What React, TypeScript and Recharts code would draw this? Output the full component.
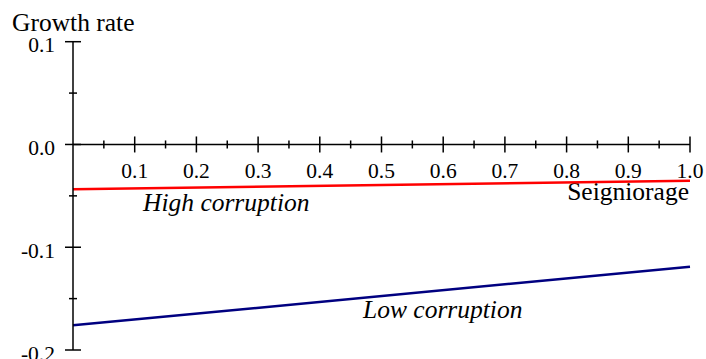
import React from 'react';
import { LineChart, Line, XAxis, YAxis, ReferenceLine, ReferenceDot, Customized } from 'recharts';

// Seigniorage share (x) and growth rate for each corruption regime
const seigniorage = [0, 1];
const highCorruption = [-0.0435, -0.0354];
const lowCorruption = [-0.176, -0.119];

// Axis ticks: majors carry a label, minors are blank
const xTicks = [0.05, 0.1, 0.15, 0.2, 0.25, 0.3, 0.35, 0.4, 0.45, 0.5, 0.55, 0.6, 0.65, 0.7, 0.75, 0.8, 0.85, 0.9, 0.95, 1.0];
const xTickLabels = ['', '0.1', '', '0.2', '', '0.3', '', '0.4', '', '0.5', '', '0.6', '', '0.7', '', '0.8', '', '0.9', '', '1.0'];
const yTicks = [-0.2, -0.15, -0.1, -0.05, 0, 0.05, 0.1];
const yTickLabels = ['-0.2', '', '-0.1', '', '0.0', '', '0.1'];

const data = seigniorage.map((s, i) => ({ s, high: highCorruption[i], low: lowCorruption[i] }));

const FONT = '"Liberation Serif", "Times New Roman", Times, serif';
const TICK_SIZE = 21.5;
const LABEL_SIZE = 25.5;
const INK = '#000';

const YTick = (props: any) => {
  const { x, y, payload } = props;
  const idx = yTicks.findIndex((t) => Math.abs(t - payload.value) < 1e-9);
  const label = idx >= 0 ? yTickLabels[idx] : '';
  const half = label ? 8 : 4;
  return (
    <g>
      <line x1={x - half} x2={x + half} y1={y} y2={y} stroke={INK} strokeWidth={1.5} />
      {label && (
        <text x={x - 18} y={y + 10.5} textAnchor="end" fontFamily={FONT} fontSize={TICK_SIZE} fill={INK}>
          {label}
        </text>
      )}
    </g>
  );
};

const XTick = ({ cx, cy, label }: { cx: number; cy: number; label: string }) => {
  const half = label ? 8 : 4;
  return (
    <g>
      <line x1={cx} x2={cx} y1={cy - half} y2={cy + half} stroke={INK} strokeWidth={1.5} />
      {label && (
        <text x={cx} y={cy + 33.5} textAnchor="middle" fontFamily={FONT} fontSize={TICK_SIZE} fill={INK}>
          {label}
        </text>
      )}
    </g>
  );
};

const Annotations = () => (
  <g fontFamily={FONT} fill={INK}>
    <text x={12} y={31} fontSize={LABEL_SIZE}>Growth rate</text>
    <text x={689} y={200} fontSize={LABEL_SIZE} textAnchor="end">Seigniorage</text>
    <text x={143} y={211} fontSize={LABEL_SIZE} fontStyle="italic">High corruption</text>
    <text x={363} y={318} fontSize={LABEL_SIZE} fontStyle="italic">Low corruption</text>
  </g>
);

export default function App() {
  return (
    <div style={{ position: 'absolute', left: 0, top: 0, width: 706, height: 359, background: '#fff' }}>
      <LineChart width={706} height={359} data={data} margin={{ top: 41.7, right: 16, bottom: 9, left: 0 }}>
        <XAxis dataKey="s" type="number" domain={[0, 1]} hide />
        <YAxis
          type="number"
          domain={[-0.2, 0.1]}
          ticks={yTicks}
          width={73}
          tickSize={0}
          tickMargin={0}
          tickLine={false}
          axisLine={{ stroke: INK, strokeWidth: 1.5 }}
          tick={<YTick />}
          interval={0}
        />
        <ReferenceLine y={0} stroke={INK} strokeWidth={1.5} />
        {xTicks.map((t, i) => (
          <ReferenceDot
            key={t}
            x={t}
            y={0}
            r={0}
            shape={(p: any) => <XTick cx={p.cx} cy={p.cy} label={xTickLabels[i]} />}
          />
        ))}
        <Line type="linear" dataKey="high" stroke="#ff0000" strokeWidth={2.5} dot={false} isAnimationActive={false} />
        <Line type="linear" dataKey="low" stroke="#000080" strokeWidth={2.5} dot={false} isAnimationActive={false} />
        <Customized component={<Annotations />} />
      </LineChart>
    </div>
  );
}
